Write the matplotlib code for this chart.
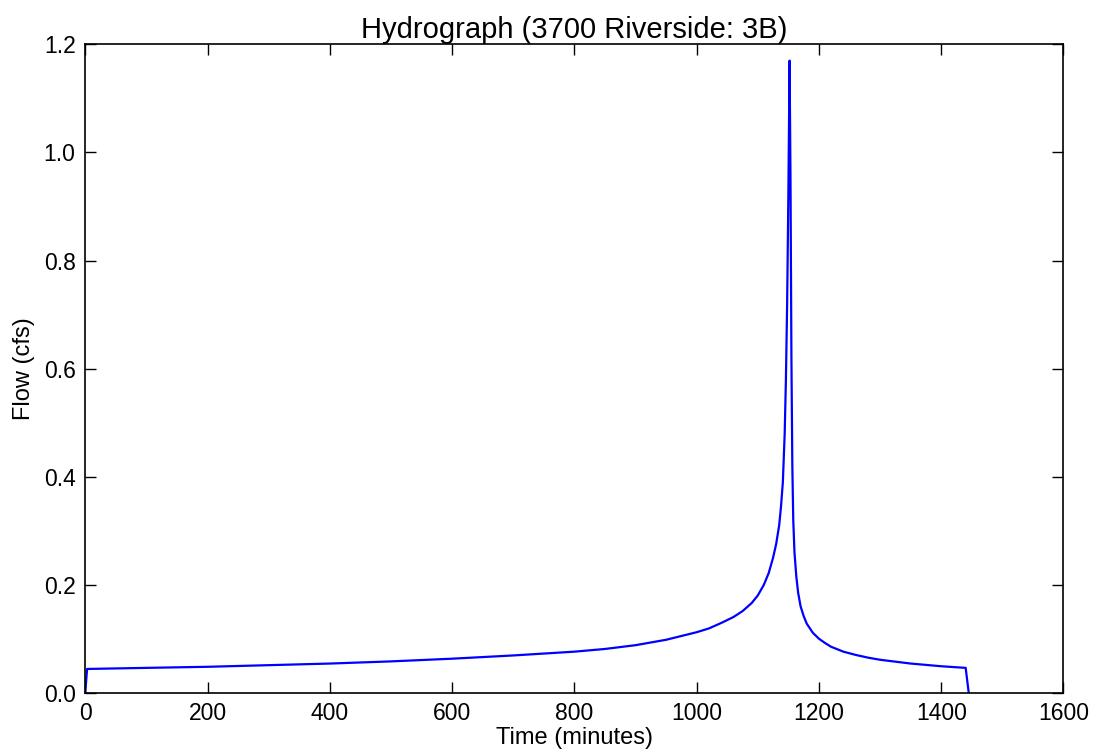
import matplotlib
matplotlib.use('Agg')
import matplotlib.pyplot as plt

timeMin = [0, 3, 100, 200, 300, 400, 500, 600, 700, 800, 850, 900, 950, 1000,
           1020, 1040, 1060, 1075, 1090, 1100, 1110, 1118, 1125, 1130, 1135,
           1138, 1141, 1144, 1146, 1148, 1150, 1152, 1153.5, 1155, 1156.5,
           1158, 1160, 1163, 1166, 1170, 1175, 1180, 1190, 1200, 1210, 1220,
           1240, 1260, 1280, 1300, 1350, 1400, 1440, 1445]
flowCfs = [0.0, 0.044, 0.046, 0.048, 0.051, 0.054, 0.058, 0.063, 0.069, 0.076,
           0.081, 0.088, 0.098, 0.112, 0.119, 0.129, 0.140, 0.151, 0.166,
           0.180, 0.200, 0.222, 0.250, 0.275, 0.310, 0.345, 0.390, 0.480,
           0.580, 0.720, 0.920, 1.170, 0.950, 0.620, 0.420, 0.320, 0.260,
           0.215, 0.185, 0.160, 0.142, 0.128, 0.111, 0.100, 0.092, 0.085,
           0.076, 0.070, 0.065, 0.061, 0.054, 0.049, 0.046, 0.0]

xTicks = [0, 200, 400, 600, 800, 1000, 1200, 1400, 1600]
yTicks = [0.0, 0.2, 0.4, 0.6, 0.8, 1.0, 1.2]

plt.rcParams['font.family'] = ['Liberation Sans', 'DejaVu Sans']

fig = plt.figure(figsize=(10.93, 7.56), dpi=100)
ax = fig.add_axes([0.078, 0.0837, 0.895, 0.8575])

ax.plot(timeMin, flowCfs, color='b', linewidth=1.6)

ax.set_xlim(0, 1600)
ax.set_ylim(0, 1.2)
ax.set_xticks(xTicks)
ax.set_yticks(yTicks)
ax.set_yticklabels([f'{v:.1f}' for v in yTicks])
ax.tick_params(direction='in', length=8, width=1, top=True, right=True,
               labelsize=16.5, pad=7)
for s in ax.spines.values():
    s.set_linewidth(1.2)

ax.set_xlabel('Time (minutes)', fontsize=17, labelpad=1)
ax.set_ylabel('Flow (cfs)', fontsize=17, labelpad=6)
ax.set_title('Hydrograph (3700 Riverside: 3B)', fontsize=21, pad=5)

fig.savefig('out.png', dpi=100, facecolor='w')
